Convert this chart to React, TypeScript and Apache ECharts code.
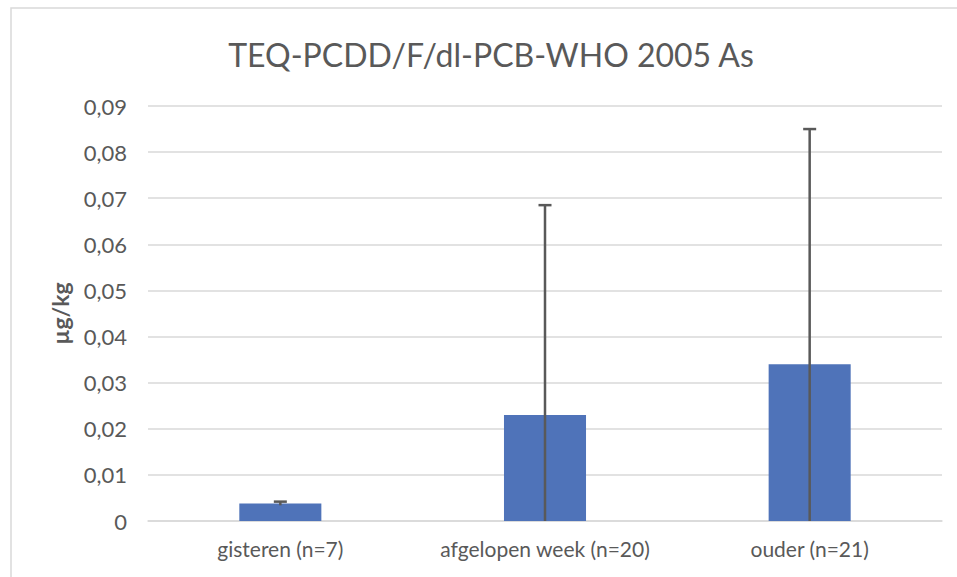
import React, { useEffect, useRef } from "react";
import * as echarts from "echarts";

const title = "TEQ-PCDD/F/dl-PCB-WHO 2005 As";
const categories = ["gisteren (n=7)", "afgelopen week (n=20)", "ouder (n=21)"];
const means = [0.0038, 0.023, 0.034];
const errors = [0.0004, 0.0455, 0.051];
const yTicks = [0, 0.01, 0.02, 0.03, 0.04, 0.05, 0.06, 0.07, 0.08, 0.09];
const yName = "µg/kg";

const FONT = "Lato, 'Open Sans', sans-serif";
const TEXT = "#595959";

export default function App() {
  const ref = useRef<HTMLDivElement>(null);
  useEffect(() => {
    if (!ref.current) return;
    const chart = echarts.init(ref.current, null, { renderer: "svg" });
    chart.setOption({
      animation: false,
      backgroundColor: "#ffffff",
      title: {
        text: title,
        left: 486,
        top: 33,
        textAlign: "center",
        textStyle: { fontFamily: FONT, fontSize: 32, fontWeight: "normal", color: TEXT },
      },
      graphic: [
        {
          type: "rect",
          shape: { x: 11, y: 8, width: 1000, height: 1000 },
          style: { fill: "none", stroke: "#d9d9d9", lineWidth: 1.5 },
          z: -1,
        },
      ],
      grid: { left: 148, right: 15, top: 106, bottom: 56 },
      xAxis: {
        type: "category",
        data: categories,
        axisLine: { lineStyle: { color: "#d9d9d9", width: 1.5 } },
        axisTick: { show: false },
        axisLabel: { color: TEXT, fontFamily: FONT, fontSize: 21, margin: 17, interval: 0 },
      },
      yAxis: {
        type: "value",
        min: yTicks[0],
        max: yTicks[yTicks.length - 1],
        interval: 0.01,
        name: yName,
        nameLocation: "middle",
        nameGap: 77,
        nameTextStyle: { color: TEXT, fontFamily: FONT, fontSize: 23, fontWeight: "bold" },
        axisLine: { show: false },
        axisTick: { show: false },
        splitLine: { lineStyle: { color: "#d9d9d9", width: 1.5 } },
        axisLabel: {
          color: TEXT,
          fontFamily: FONT,
          fontSize: 22,
          margin: 21,
          formatter: (v: number) => (v === 0 ? "0" : v.toFixed(2).replace(".", ",")),
        },
      },
      series: [
        {
          type: "bar",
          data: means,
          barWidth: "31%",
          itemStyle: { color: "#4f73b9" },
          z: 2,
        },
        {
          type: "custom",
          data: categories.map((_, i) => [i, means[i], errors[i]]),
          z: 3,
          renderItem: (params: any, api: any) => {
            const i = api.value(0);
            const v = api.value(1);
            const e = api.value(2);
            const hi = api.coord([i, v + e]);
            const lo = api.coord([i, Math.max(0, v - e)]);
            const half = 6.5;
            const style = { stroke: "#595959", lineWidth: 2.5 };
            const children: any[] = [
              { type: "line", shape: { x1: hi[0], y1: hi[1], x2: lo[0], y2: lo[1] }, style },
              { type: "line", shape: { x1: hi[0] - half, y1: hi[1], x2: hi[0] + half, y2: hi[1] }, style },
            ];
            return { type: "group", children };
          },
        },
      ],
    });
    return () => chart.dispose();
  }, []);
  return (
    <div
      ref={ref}
      style={{ position: "fixed", left: 0, top: 0, width: 957, height: 577, background: "#fff" }}
    />
  );
}
